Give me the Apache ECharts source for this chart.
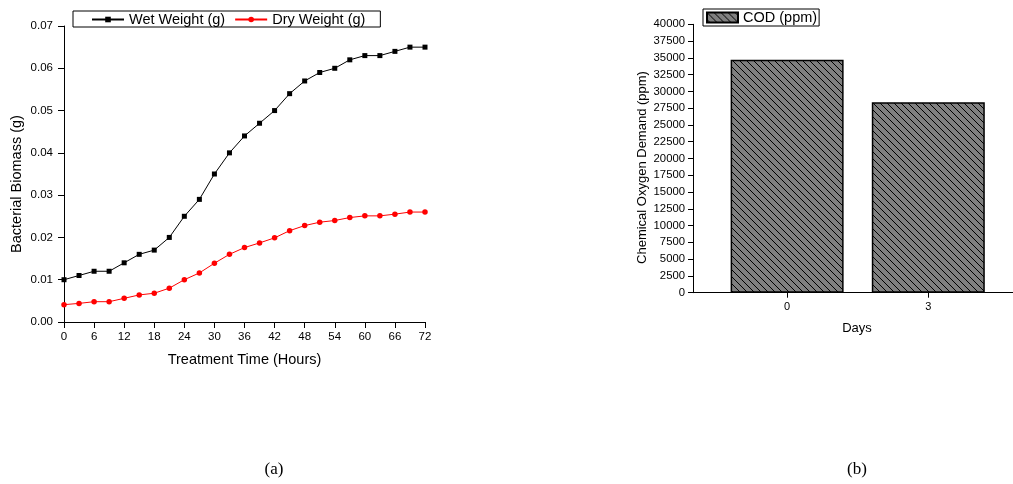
<!DOCTYPE html>
<html>
<head>
<meta charset="utf-8">
<script src="https://cdn.jsdelivr.net/npm/echarts@6/dist/echarts.min.js"></script>
<style>
  html, body { margin: 0; padding: 0; background: #fff; }
  #chart { width: 1013px; height: 484px; }
</style>
</head>
<body>
<div id="chart"></div>
<script>
// (a) biomass over time
const hours = [0, 3, 6, 9, 12, 15, 18, 21, 24, 27, 30, 33, 36, 39, 42, 45, 48, 51, 54, 57, 60, 63, 66, 69, 72];
const wetWeight = [0.010, 0.011, 0.012, 0.012, 0.014, 0.016, 0.017, 0.020, 0.025, 0.029, 0.035, 0.040, 0.044,
  0.047, 0.050, 0.054, 0.057, 0.059, 0.060, 0.062, 0.063, 0.063, 0.064, 0.065, 0.065];
const dryWeight = [0.0041, 0.0044, 0.0048, 0.0048, 0.0056, 0.0064, 0.0068, 0.0080, 0.0100, 0.0116, 0.0139, 0.0160, 0.0176,
  0.0187, 0.0199, 0.0216, 0.0228, 0.0236, 0.0240, 0.0247, 0.0251, 0.0251, 0.0255, 0.0260, 0.0260];

// (b) COD
const days = [0, 3];
const cod = [34700, 28400];

const font = "Liberation Sans, Arial, sans-serif";

// hatched fill for the bars
function hatch() {
  const c = document.createElement("canvas");
  c.width = 7;
  c.height = 7;
  const ctx = c.getContext("2d");
  ctx.fillStyle = "#808080";
  ctx.fillRect(0, 0, 7, 7);
  ctx.strokeStyle = "#000";
  ctx.lineWidth = 1;
  [-7, 0, 7].forEach(function (o) {
    ctx.beginPath();
    ctx.moveTo(o - 1, -1);
    ctx.lineTo(o + 8, 8);
    ctx.stroke();
  });
  return c;
}
const pattern = { image: hatch(), repeat: "repeat" };

const axisBlack = { lineStyle: { color: "#000", width: 1 } };

const chart = echarts.init(document.getElementById("chart"));
chart.setOption({
  animation: false,
  textStyle: { fontFamily: font, color: "#000" },
  legend: [
    {
      left: 73,
      top: 11,
      padding: [1, 15, 0, 18],
      itemGap: 9,
      itemWidth: 32,
      itemHeight: 7,
      borderColor: "#000",
      borderWidth: 1,
      selectedMode: false,
      data: ["Wet Weight (g)", "Dry Weight (g)"],
      textStyle: { fontSize: 14.5, fontFamily: font, color: "#000" }
    },
    {
      left: 703,
      top: 9,
      padding: [1, 2, 1, 3],
      itemWidth: 31,
      itemHeight: 10,
      icon: "rect",
      borderColor: "#000",
      borderWidth: 1,
      selectedMode: false,
      data: ["COD (ppm)"],
      textStyle: { fontSize: 14.5, fontFamily: font, color: "#000" }
    }
  ],
  grid: [
    { left: 64, top: 26, width: 361, height: 296 },
    { left: 693, top: 24.3, right: 0, height: 268.4 }
  ],
  xAxis: [
    {
      gridIndex: 0,
      type: "value",
      min: 0,
      max: 72,
      interval: 6,
      name: "Treatment Time (Hours)",
      nameLocation: "middle",
      nameGap: 30,
      nameTextStyle: { fontSize: 14.5, fontFamily: font, color: "#000" },
      axisLine: axisBlack,
      axisTick: { show: true, length: 6, lineStyle: { color: "#000" } },
      axisLabel: { fontSize: 11.5, margin: 9, color: "#000", fontFamily: font },
      splitLine: { show: false }
    },
    {
      gridIndex: 1,
      type: "value",
      min: -2,
      max: 4.8,
      name: "Days",
      nameLocation: "middle",
      nameGap: 29,
      nameTextStyle: { fontSize: 13, fontFamily: font, color: "#000", padding: [0, 0, 0, 8] },
      axisLine: axisBlack,
      axisTick: { show: true, length: 5, customValues: days, lineStyle: { color: "#000" } },
      axisLabel: { fontSize: 11, margin: 9, color: "#000", fontFamily: font, customValues: days },
      splitLine: { show: false }
    }
  ],
  yAxis: [
    {
      gridIndex: 0,
      type: "value",
      min: 0,
      max: 0.07,
      interval: 0.01,
      name: "Bacterial Biomass (g)",
      nameLocation: "middle",
      nameGap: 40,
      nameTextStyle: { fontSize: 14.5, fontFamily: font, color: "#000", padding: [0, 20, 0, 0] },
      axisLine: { show: true, onZero: false, lineStyle: { color: "#000", width: 1 } },
      axisTick: { show: true, length: 6, lineStyle: { color: "#000" } },
      axisLabel: {
        fontSize: 11.5,
        margin: 11,
        color: "#000",
        fontFamily: font,
        formatter: function (v) { return v.toFixed(2); }
      },
      splitLine: { show: false }
    },
    {
      gridIndex: 1,
      type: "value",
      min: 0,
      max: 40000,
      interval: 2500,
      name: "Chemical Oxygen Demand (ppm)",
      nameLocation: "middle",
      nameGap: 44,
      nameTextStyle: { fontSize: 13, fontFamily: font, color: "#000", padding: [0, 18, 0, 0] },
      axisLine: { show: true, onZero: false, lineStyle: { color: "#000", width: 1 } },
      axisTick: { show: true, length: 5, lineStyle: { color: "#000" } },
      axisLabel: {
        fontSize: 11.3,
        margin: 8,
        color: "#000",
        fontFamily: font,
        formatter: function (v) { return String(v); }
      },
      splitLine: { show: false }
    }
  ],
  series: [
    {
      name: "Wet Weight (g)",
      type: "line",
      xAxisIndex: 0,
      yAxisIndex: 0,
      data: hours.map(function (h, i) { return [h, wetWeight[i]]; }),
      symbol: "rect",
      symbolSize: 5,
      color: "#000",
      lineStyle: { color: "#000", width: 1 },
      itemStyle: { color: "#000" }
    },
    {
      name: "Dry Weight (g)",
      type: "line",
      xAxisIndex: 0,
      yAxisIndex: 0,
      data: hours.map(function (h, i) { return [h, dryWeight[i]]; }),
      symbol: "circle",
      symbolSize: 5.5,
      color: "#ff0000",
      lineStyle: { color: "#ff0000", width: 1 },
      itemStyle: { color: "#ff0000" }
    },
    {
      name: "COD (ppm)",
      type: "bar",
      xAxisIndex: 1,
      yAxisIndex: 1,
      barWidth: 113,
      data: days.map(function (d, i) { return [d, cod[i]]; }),
      itemStyle: { color: pattern, borderColor: "#000", borderWidth: 1.5 }
    }
  ],
  graphic: [
    {
      type: "text",
      x: 274,
      y: 470,
      style: { text: "(a)", font: "17px 'Liberation Serif', serif", fill: "#000", textAlign: "center", textVerticalAlign: "middle" }
    },
    {
      type: "text",
      x: 857,
      y: 470,
      style: { text: "(b)", font: "17px 'Liberation Serif', serif", fill: "#000", textAlign: "center", textVerticalAlign: "middle" }
    }
  ]
});
</script>
</body>
</html>
